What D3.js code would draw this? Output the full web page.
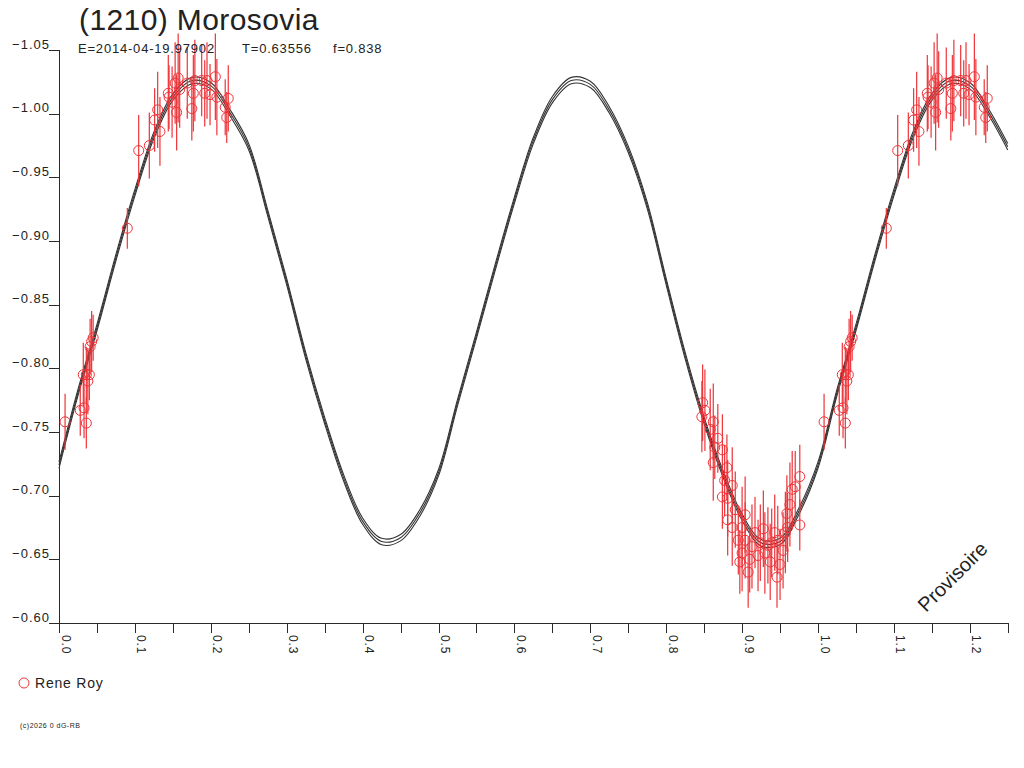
<!DOCTYPE html>
<html>
<head>
<meta charset="utf-8">
<script src="https://cdn.jsdelivr.net/npm/d3@7"></script>
<style>
  body { margin: 0; background: #fff; }
  text { font-family: "Liberation Sans", Arial, sans-serif; fill: #222; }
</style>
</head>
<body>
<div id="chart"></div>
<script>

  // model light curve, read every 0.025 in phase
  var curvePhase = [0.000, 0.025, 0.050, 0.075, 0.100, 0.125, 0.150, 0.175, 0.200, 0.225,
                    0.250, 0.275, 0.300, 0.325, 0.350, 0.375, 0.400, 0.425, 0.450, 0.475,
                    0.500, 0.525, 0.550, 0.575, 0.600, 0.625, 0.650, 0.675, 0.700, 0.725,
                    0.750, 0.775, 0.800, 0.825, 0.850, 0.875, 0.900, 0.925, 0.950, 0.975];
  var curveMag = [-0.724, -0.781, -0.832, -0.887, -0.938, -0.983, -1.013, -1.026, -1.022, -1.001,
                  -0.974, -0.922, -0.868, -0.810, -0.759, -0.714, -0.680, -0.664, -0.667, -0.686,
                  -0.718, -0.773, -0.826, -0.880, -0.932, -0.979, -1.011, -1.026, -1.023, -1.003,
                  -0.972, -0.928, -0.868, -0.810, -0.759, -0.717, -0.683, -0.663, -0.664, -0.688];
  var curveSigma = 0.0025;

  // Rene Roy measurements
  var obsPhase = [0.008, 0.028, 0.033, 0.032, 0.036, 0.040, 0.038, 0.036, 0.041, 0.045, 0.043,
                  0.090,
                  0.105, 0.119, 0.130, 0.126, 0.133, 0.144, 0.153, 0.157, 0.159, 0.169, 0.175, 0.177,
                  0.179, 0.188, 0.195, 0.192, 0.199, 0.206, 0.208, 0.219, 0.221, 0.223, 0.155, 0.145, 0.149,
                  0.848, 0.847, 0.851, 0.862, 0.868, 0.864, 0.862, 0.874, 0.880, 0.887, 0.874, 0.881,
                  0.881, 0.887, 0.900, 0.895, 0.900, 0.897, 0.908, 0.913, 0.924, 0.917, 0.930, 0.937,
                  0.939, 0.943, 0.950, 0.954, 0.957, 0.960, 0.959, 0.963, 0.966, 0.976, 0.970, 0.976,
                  0.946, 0.904, 0.921, 0.928, 0.910, 0.891, 0.858, 0.877, 0.934, 0.947, 0.904];
  var obsMag = [-0.758, -0.767, -0.769, -0.795, -0.795, -0.795, -0.790, -0.757, -0.817, -0.824, -0.821,
                -0.910,
                -0.971, -0.975, -1.003, -0.995, -0.986, -1.016, -1.024, -1.028, -1.019, -1.024, -1.004, -1.016,
                -1.026, -1.026, -1.026, -1.016, -1.015, -1.029, -1.013, -1.005, -0.997, -1.012, -1.001, -1.013, -1.009,
                -0.773, -0.762, -0.767, -0.758, -0.745, -0.738, -0.726, -0.736, -0.722, -0.708, -0.699, -0.698,
                -0.681, -0.675, -0.675, -0.665, -0.655, -0.648, -0.640, -0.660, -0.663, -0.671, -0.655, -0.648,
                -0.663, -0.671, -0.646, -0.657, -0.671, -0.675, -0.686, -0.693, -0.705, -0.715, -0.707, -0.677,
                -0.636, -0.665, -0.653, -0.674, -0.650, -0.689, -0.752, -0.712, -0.661, -0.665, -0.685];
  var obsErr = [0.022, 0.020, 0.024, 0.025, 0.022, 0.020, 0.026, 0.020, 0.022, 0.018, 0.024,
                0.016,
                0.028, 0.026, 0.030, 0.025, 0.027, 0.030, 0.032, 0.035, 0.030, 0.028, 0.025, 0.030,
                0.032, 0.028, 0.030, 0.026, 0.024, 0.034, 0.030, 0.022, 0.020, 0.026, 0.030, 0.025, 0.028,
                0.030, 0.028, 0.032, 0.030, 0.027, 0.025, 0.030, 0.028, 0.026, 0.030, 0.025, 0.030,
                0.028, 0.030, 0.032, 0.027, 0.030, 0.025, 0.028, 0.033, 0.030, 0.028, 0.032, 0.030,
                0.027, 0.030, 0.028, 0.030, 0.032, 0.027, 0.030, 0.033, 0.030, 0.025, 0.028, 0.020,
                0.024, 0.030, 0.028, 0.030, 0.026, 0.030, 0.032, 0.028, 0.030, 0.027, 0.030];

  var yTicks = [-1.05, -1.00, -0.95, -0.90, -0.85, -0.80, -0.75, -0.70, -0.65, -0.60];
  var xTicks = [0, 0.05, 0.1, 0.15, 0.2, 0.25, 0.3, 0.35, 0.4, 0.45, 0.5, 0.55, 0.6,
                0.65, 0.7, 0.75, 0.8, 0.85, 0.9, 0.95, 1.0, 1.05, 1.1, 1.15, 1.2, 1.25];

  var title = "(1210) Morosovia";
  var subtitles = ["E=2014-04-19.97902", "T=0.63556", "f=0.838"];
  var observer = "Rene Roy";
  var credit = "(c)2026 0 dG-RB";
  var stamp = "Provisoire";

  //=========================================================================
  // Set Dimensions
  //=========================================================================
  var width = 1024, height = 768,
      plotLeft = 59, plotRight = 1007.75, plotTop = 50, plotBottom = 623,
      red = "#ee3338", ink = "#2a2a2a",
      axisFont = "'Liberation Sans', Arial, sans-serif";

  var svg = d3.select("#chart")
    .append("svg")
    .attr("width", width)
    .attr("height", height);

  var x = d3.scaleLinear().domain([0, 1.25]).range([plotLeft, plotRight]);
  var y = d3.scaleLinear().domain([-1.05, -0.60]).range([plotTop, plotBottom]);

  //=========================================================================
  // Fold the phases: everything below 0.25 is shown again after 1.0
  //=========================================================================
  var curve = curvePhase.map(function(p, i) { return { p: p, m: curveMag[i] }; });
  curve = curve.concat(curve.filter(function(d) { return d.p <= 0.25; })
    .map(function(d) { return { p: d.p + 1, m: d.m }; }));

  var obs = obsPhase.map(function(p, i) { return { p: p, m: obsMag[i], e: obsErr[i] }; });
  obs = obs.concat(obs.filter(function(d) { return d.p <= 0.25; })
    .map(function(d) { return { p: d.p + 1, m: d.m, e: d.e }; }));

  //=========================================================================
  // Axes
  //=========================================================================
  var yAxis = svg.append("g")
    .attr("transform", "translate(" + plotLeft + ",0)")
    .call(d3.axisLeft(y).tickValues(yTicks).tickSize(10).tickFormat(d3.format(".2f")));
  yAxis.select(".domain").attr("d", "M0," + plotTop + "V" + plotBottom);
  yAxis.selectAll("text")
    .attr("x", -9)
    .attr("dy", "-2")
    .style("font-size", "13px")
    .style("letter-spacing", "1px")
    .style("font-family", axisFont)
    .attr("fill", ink);

  var xAxis = svg.append("g")
    .attr("transform", "translate(0," + plotBottom + ")")
    .call(d3.axisBottom(x).tickValues(xTicks).tickSize(10)
      .tickFormat(function(d) { return Math.round(d * 100) % 10 === 0 ? d.toFixed(1) : ""; }));
  xAxis.select(".domain").attr("d", "M" + plotLeft + ",0H" + plotRight);
  xAxis.selectAll("text")
    .attr("transform", "rotate(90)")
    .attr("x", 12)
    .attr("y", -2)
    .attr("dy", 0)
    .attr("text-anchor", "start")
    .style("font-size", "12px")
    .style("letter-spacing", "0.9px")
    .style("font-family", axisFont)
    .attr("fill", ink);
  svg.selectAll(".domain, .tick line")
    .attr("stroke", ink)
    .attr("stroke-width", 1)
    .attr("shape-rendering", "crispEdges");

  //=========================================================================
  // Model curve with its band
  //=========================================================================
  var gCurve = svg.append("g").attr("fill", "none").attr("stroke", "#333");
  [-curveSigma, 0, curveSigma].forEach(function(off) {
    gCurve.append("path")
      .datum(curve)
      .attr("stroke-width", 1.1)
      .attr("d", d3.line()
        .curve(d3.curveCatmullRom)
        .x(function(d) { return x(d.p); })
        .y(function(d) { return y(d.m + off); }));
  });

  //=========================================================================
  // Observations
  //=========================================================================
  svg.append("g")
    .selectAll("line")
    .data(obs)
    .enter()
    .append("line")
    .attr("x1", function(d) { return x(d.p); })
    .attr("x2", function(d) { return x(d.p); })
    .attr("y1", function(d) { return y(d.m - d.e); })
    .attr("y2", function(d) { return y(d.m + d.e); })
    .attr("stroke", red)
    .attr("stroke-width", 1.2);

  svg.append("g")
    .selectAll("circle")
    .data(obs)
    .enter()
    .append("circle")
    .attr("cx", function(d) { return x(d.p); })
    .attr("cy", function(d) { return y(d.m); })
    .attr("r", 5)
    .attr("fill", "none")
    .attr("stroke", red)
    .attr("stroke-width", 1);

  //=========================================================================
  // Texts
  //=========================================================================
  svg.append("text")
    .attr("x", 79).attr("y", 30)
    .style("font-size", "30px")
    .style("letter-spacing", "0.4px")
    .text(title);

  var subX = [78, 242, 333];
  svg.selectAll(".sub")
    .data(subtitles)
    .enter()
    .append("text")
    .attr("class", "sub")
    .attr("x", function(d, i) { return subX[i]; })
    .attr("y", 53)
    .style("font-size", "13px")
    .style("letter-spacing", "0.8px")
    .text(function(d) { return d; });

  svg.append("circle")
    .attr("cx", 24).attr("cy", 683).attr("r", 5)
    .attr("fill", "none").attr("stroke", red);
  svg.append("text")
    .attr("x", 35).attr("y", 688)
    .style("font-size", "14px")
    .style("letter-spacing", "0.8px")
    .text(observer);

  svg.append("text")
    .attr("x", 20).attr("y", 728)
    .style("font-size", "7px")
    .style("letter-spacing", "0.5px")
    .text(credit);

  svg.append("text")
    .attr("transform", "translate(926,613) rotate(-45)")
    .style("font-size", "20px")
    .attr("fill", "#111")
    .text(stamp);

</script>
</body>
</html>
